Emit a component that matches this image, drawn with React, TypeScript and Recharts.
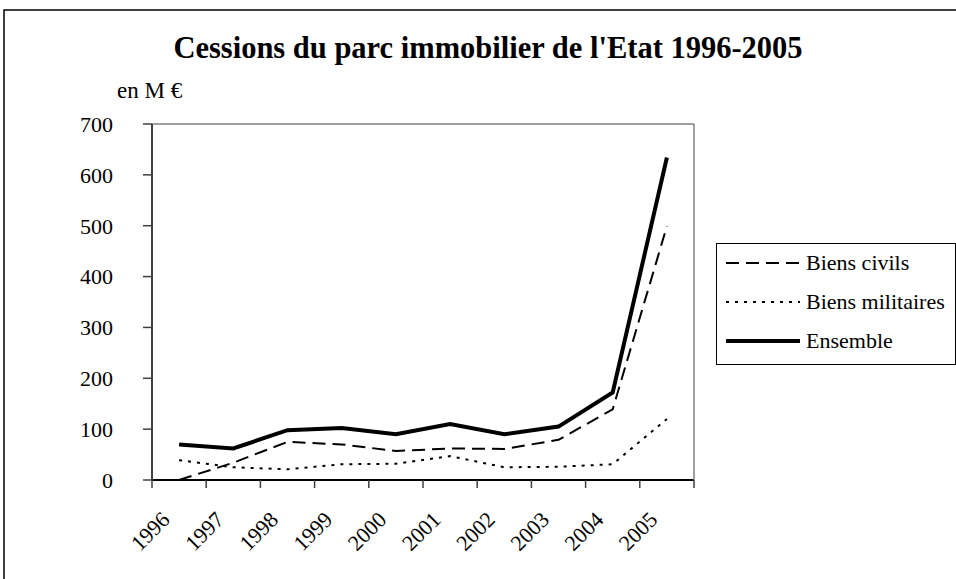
import { Legend, Line, LineChart, XAxis, YAxis } from "recharts";

const years = ["1996", "1997", "1998", "1999", "2000", "2001", "2002", "2003", "2004", "2005"];
const civils = [0, 34, 75, 70, 57, 62, 61, 79, 139, 499];
const militaires = [39, 25, 21, 31, 32, 47, 25, 26, 31, 120];
const ensemble = [70, 62, 98, 102, 90, 110, 90, 105, 172, 634];
const yTicks = [0, 100, 200, 300, 400, 500, 600, 700];

const series = [
  { key: "civils", name: "Biens civils", dash: "13 7", width: 2 },
  { key: "militaires", name: "Biens militaires", dash: "3 6", width: 2 },
  { key: "ensemble", name: "Ensemble", dash: undefined, width: 4 },
];

const data = years.map((year, i) => ({
  year,
  civils: civils[i],
  militaires: militaires[i],
  ensemble: ensemble[i],
}));

const FONT = "'Liberation Serif', 'Times New Roman', serif";
const CHART_W = 956;
const MARGIN = { top: 123, right: 261, bottom: 98, left: 92 };
const Y_AXIS_W = 60;
// width of one category band, Excel puts the tick marks between categories
const BAND = (CHART_W - MARGIN.left - Y_AXIS_W - MARGIN.right - 1) / years.length;

function YearTick({ x, y, payload, index }: any) {
  const half = BAND / 2;
  return (
    <g>
      <line x1={x - half} x2={x - half} y1={y - 10} y2={y - 2} stroke="#404040" strokeWidth={1.5} />
      {index === years.length - 1 && (
        <line x1={x + half} x2={x + half} y1={y - 10} y2={y - 2} stroke="#404040" strokeWidth={1.5} />
      )}
      <g transform={`translate(${x - 8},${y + 31}) rotate(-45)`}>
        <text x={0} y={0} textAnchor="end" fontSize={22} fontFamily={FONT} fill="#000">
          {payload.value}
        </text>
      </g>
    </g>
  );
}

function EmptyTick() {
  return <g />;
}

function LegendBox() {
  return (
    <svg width={240} height={122} style={{ display: "block" }}>
      <rect x={0.5} y={0.5} width={239} height={121} fill="#fff" stroke="#000" strokeWidth={1} />
      {series.map((s, i) => {
        const cy = 20 + i * 39;
        return (
          <g key={s.key}>
            <line x1={10} x2={84} y1={cy} y2={cy} stroke="#000" strokeWidth={s.width} strokeDasharray={s.dash} />
            <text x={90} y={cy + 7} fontSize={22} fontFamily={FONT} fill="#000">
              {s.name}
            </text>
          </g>
        );
      })}
    </svg>
  );
}

export default function App() {
  return (
    <div style={{ position: "absolute", left: 0, top: 0, width: 956, height: 579, background: "#fff" }}>
      <LineChart width={CHART_W} height={579} data={data} margin={MARGIN}>
        <XAxis
          xAxisId="cat"
          dataKey="year"
          scale="band"
          height={1}
          interval={0}
          tickLine={false}
          axisLine={{ stroke: "#000", strokeWidth: 2 }}
          tickSize={8}
          tickMargin={2}
          tick={YearTick}
        />
        <XAxis
          xAxisId="top"
          orientation="top"
          dataKey="year"
          height={1}
          interval={0}
          tick={EmptyTick}
          tickLine={false}
          axisLine={{ stroke: "#808080", strokeWidth: 1.5 }}
        />
        <YAxis
          yAxisId="left"
          width={Y_AXIS_W}
          domain={[0, 700]}
          ticks={yTicks}
          interval={0}
          tickSize={9}
          tickMargin={30}
          tick={{ fontSize: 22, fontFamily: FONT, fill: "#000" }}
          tickLine={{ stroke: "#404040", strokeWidth: 1.5 }}
          axisLine={{ stroke: "#404040", strokeWidth: 2 }}
        />
        <YAxis
          yAxisId="right"
          orientation="right"
          width={1}
          domain={[0, 700]}
          ticks={yTicks}
          tick={EmptyTick}
          tickLine={false}
          axisLine={{ stroke: "#808080", strokeWidth: 1.5 }}
        />
        <Legend
          layout="vertical"
          align="center"
          verticalAlign="middle"
          content={LegendBox}
          wrapperStyle={{ left: 716, top: 243, width: 240, height: 122 }}
        />
        {series.map((s) => (
          <Line
            key={s.key}
            xAxisId="cat"
            yAxisId="left"
            dataKey={s.key}
            name={s.name}
            type="linear"
            stroke="#000"
            strokeWidth={s.width}
            strokeDasharray={s.dash}
            dot={false}
            activeDot={false}
            isAnimationActive={false}
          />
        ))}
      </LineChart>
      <svg
        width={956}
        height={579}
        style={{ position: "absolute", left: 0, top: 0, pointerEvents: "none" }}
      >
        <polyline points="4,579 4,10 956,10" fill="none" stroke="#000" strokeWidth={1.5} />
        <text x={488} y={58} textAnchor="middle" fontSize={30.5} fontWeight="bold" fontFamily={FONT} fill="#000">
          Cessions du parc immobilier de l'Etat 1996-2005
        </text>
        <text x={117} y={98} fontSize={23} fontFamily={FONT} fill="#000">
          en M €
        </text>
      </svg>
    </div>
  );
}
